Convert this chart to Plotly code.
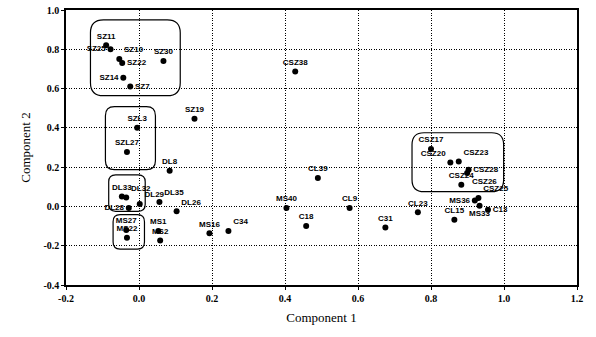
import plotly.graph_objects as go

labels = ["SZ11", "SZ25", "SZ10", "SZ22", "SZ14", "SZ7", "SZ30",
          "CSZ38", "SZ19", "SZL3", "SZL27", "DL8",
          "DL33", "DL32", "DL29", "DL28", "DL35", "DL26",
          "MS27", "MS22", "MS1", "MS2", "MS16", "C34",
          "MS40", "CL39", "C18", "CL9", "C31", "CL23", "CL15",
          "CSZ17", "CSZ20", "CSZ23", "CSZ28", "CSZ26", "CSZ24", "CSZ25",
          "MS36", "MS33", "C13"]
comp1 = [-0.090, -0.078, -0.054, -0.046, -0.043, -0.024, 0.067,
         0.428, 0.152, -0.005, -0.033, 0.084,
         -0.047, -0.035, 0.002, -0.028, 0.056, 0.103,
         -0.035, -0.033, 0.053, 0.058, 0.193, 0.245,
         0.404, 0.490, 0.458, 0.577, 0.675, 0.764, 0.864,
         0.800, 0.853, 0.876, 0.903, 0.899, 0.883, 0.930,
         0.920, 0.933, 0.956]
comp2 = [0.820, 0.800, 0.750, 0.730, 0.655, 0.610, 0.740,
         0.687, 0.446, 0.400, 0.277, 0.182,
         0.050, 0.045, 0.012, -0.008, 0.022, -0.025,
         -0.120, -0.160, -0.125, -0.173, -0.137, -0.125,
         -0.008, 0.145, -0.100, -0.008, -0.107, -0.030, -0.068,
         0.292, 0.224, 0.229, 0.187, 0.170, 0.110, 0.043,
         0.030, 0.004, -0.017]
label_pos = ["top center", "middle left", "top right", "middle right", "middle left", "middle right", "top center",
             "top center", "top center", "top center", "top center", "top center",
             "top center", "top right", "top right", "middle left", "top right", "top right",
             "top center", "top center", "top center", "top center", "top center", "top right",
             "top center", "top center", "top center", "top center", "top center", "top center", "top center",
             "top center", "top left", "top right", "middle right", "bottom right", "top center", "top right",
             "middle left", "bottom center", "middle right"]

# cluster boxes: x0, x1, y0, y1, corner radius (px)
box_x0 = [-0.133, -0.092, -0.083, -0.071, 0.748]
box_x1 = [0.113, 0.045, 0.017, 0.015, 0.999]
box_y0 = [0.564, 0.187, -0.025, -0.217, 0.075]
box_y1 = [0.950, 0.508, 0.161, -0.042, 0.375]
box_r = [13, 9, 7, 7, 12]

xticks = [-0.2, 0.0, 0.2, 0.4, 0.6, 0.8, 1.0, 1.2]
yticks = [-0.4, -0.2, 0.0, 0.2, 0.4, 0.6, 0.8, 1.0]

W, H = 596, 337
ML, MR, MT, MB = 66, 19, 10, 52
px_x = (W - ML - MR) / 1.4
px_y = (H - MT - MB) / 1.4


def rounded(x0, x1, y0, y1, r):
    rx = r / px_x
    ry = r / px_y
    return (f"M {x0+rx},{y0} L {x1-rx},{y0} Q {x1},{y0} {x1},{y0+ry} "
            f"L {x1},{y1-ry} Q {x1},{y1} {x1-rx},{y1} "
            f"L {x0+rx},{y1} Q {x0},{y1} {x0},{y1-ry} "
            f"L {x0},{y0+ry} Q {x0},{y0} {x0+rx},{y0} Z")


fig = go.Figure()
fig.add_trace(go.Scatter(
    x=comp1, y=comp2, text=labels, mode="markers+text",
    textposition=label_pos,
    marker=dict(color="black", size=6),
    textfont=dict(family="Liberation Sans", size=8, color="black", weight="bold"),
    cliponaxis=False, showlegend=False, hoverinfo="skip",
))

shapes = []
for x0, x1, y0, y1, r in zip(box_x0, box_x1, box_y0, box_y1, box_r):
    shapes.append(dict(type="path", path=rounded(x0, x1, y0, y1, r),
                       xref="x", yref="y", line=dict(color="black", width=1.2)))

axis_common = dict(
    showline=True, linecolor="black", linewidth=1.5, mirror=True,
    showgrid=True, gridcolor="black", griddash="1px,1.5px", gridwidth=1,
    zeroline=False, ticks="outside", ticklen=3, tickcolor="black",
    automargin=False,
    tickfont=dict(family="Liberation Serif", size=10, color="black", weight="bold"),
)
fig.update_layout(
    width=W, height=H, margin=dict(l=ML, r=MR, t=MT, b=MB),
    paper_bgcolor="white", plot_bgcolor="white",
    shapes=shapes,
    xaxis=dict(range=[-0.2, 1.2], tickvals=xticks,
               ticktext=[f"{v:.1f}" for v in xticks],
               title=dict(text="Component 1", standoff=10,
                          font=dict(family="Liberation Serif", size=13, color="black")),
               **axis_common),
    yaxis=dict(range=[-0.4, 1.0], tickvals=yticks,
               ticktext=[f"{v:.1f}" for v in yticks],
               title=dict(text="Component 2", standoff=10,
                          font=dict(family="Liberation Serif", size=13, color="black")),
               **axis_common),
)
fig.write_html("out.html", config={"displayModeBar": False},
               post_script="document.body.style.margin='0';")
